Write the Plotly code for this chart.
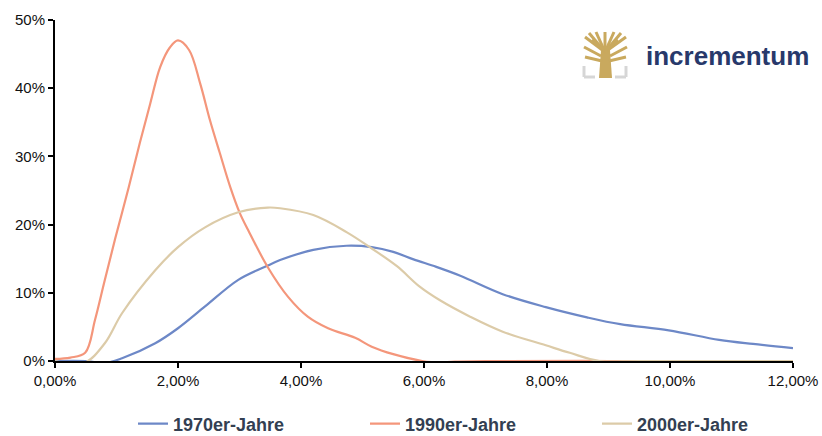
import plotly.graph_objects as go

# Zinssatz (%) on x-axis, share of observations (%) on y-axis
x_1970 = [0, 0.5, 0.81, 1.09, 1.63, 2.0, 2.44, 2.98, 3.46, 3.66, 4.2, 4.74, 5.15, 5.5, 5.83, 6.2, 6.59, 7.28, 7.98, 8.65, 9.19, 9.98, 10.8, 11.35, 12.0]
y_1970 = [0, 0, -0.3, 0.4, 2.6, 4.8, 8.0, 11.9, 14.0, 14.8, 16.3, 16.9, 16.7, 16.0, 14.9, 13.8, 12.5, 9.8, 7.9, 6.4, 5.4, 4.5, 3.1, 2.5, 1.9]

x_1990 = [0, 0.25, 0.49, 0.65, 0.8, 0.98, 1.2, 1.38, 1.55, 1.71, 1.87, 2.0, 2.18, 2.36, 2.52, 2.68, 2.85, 3.0, 3.14, 3.47, 3.79, 4.11, 4.44, 4.88, 5.15, 5.5, 5.97, 6.2, 6.5, 7.0, 9.0, 12.0]
y_1990 = [0.3, 0.5, 1.2, 6.0, 11.5, 18.0, 25.5, 32.0, 37.8, 43.1, 46.0, 47.0, 45.6, 40.7, 35.3, 30.5, 25.5, 21.8, 19.2, 13.6, 9.4, 6.5, 4.8, 3.4, 2.1, 1.0, 0, -0.2, -0.1, 0, 0, 0]

x_2000 = [0, 0.47, 0.81, 1.09, 1.63, 2.0, 2.44, 2.98, 3.46, 3.66, 4.2, 4.74, 5.15, 5.56, 5.93, 6.26, 6.75, 7.28, 7.98, 8.37, 8.85, 9.5, 12.0]
y_2000 = [0, -0.3, 2.6, 7.0, 13.3, 16.7, 19.6, 21.8, 22.5, 22.4, 21.4, 18.9, 16.5, 13.9, 10.9, 8.9, 6.5, 4.3, 2.3, 1.2, 0, 0, 0]

series_names = ["1970er-Jahre", "1990er-Jahre", "2000er-Jahre"]
colors = ["#6d88c7", "#f4967b", "#dccba8"]

x_ticks = [0, 2, 4, 6, 8, 10, 12]
x_ticktext = ["0,00%", "2,00%", "4,00%", "6,00%", "8,00%", "10,00%", "12,00%"]
y_ticks = [0, 10, 20, 30, 40, 50]
y_ticktext = ["0%", "10%", "20%", "30%", "40%", "50%"]

fig = go.Figure()
for xs, ys, name, col in zip([x_1970, x_1990, x_2000], [y_1970, y_1990, y_2000], series_names, colors):
    fig.add_trace(go.Scatter(x=xs, y=ys, name=name, mode="lines",
                             line=dict(color=col, width=2.2, shape="spline", smoothing=1.0)))

W, H = 822, 436
L, R, T, B = 55, 29, 20, 75
pw, ph = W - L - R, H - T - B

def px(xp):
    return (xp - L) / pw

def py(yp):
    return (H - B - yp) / ph

shapes = []
gold = "#c9a95e"
grey = "#d6d6d6"
shapes.append(dict(type="path", xref="paper", yref="paper",
                   path="M {},{} L {},{} L {},{} L {},{} Z".format(px(599), py(78), px(612), py(78), px(610), py(50), px(601), py(50)),
                   fillcolor=gold, line=dict(width=0)))
branches = [((605, 52), (585, 37)), ((605, 52), (589, 33)), ((605, 52), (596, 32)), ((605, 52), (605, 32)),
            ((605, 52), (614, 32)), ((605, 52), (621, 33)), ((605, 52), (626, 37)),
            ((601, 56), (584, 47)), ((610, 56), (627, 47)), ((602, 61), (585, 57)), ((609, 61), (626, 57)),
            ((604, 50), (592, 40)), ((606, 50), (618, 40))]
for (a, b) in branches:
    shapes.append(dict(type="line", xref="paper", yref="paper", x0=px(a[0]), y0=py(a[1]), x1=px(b[0]), y1=py(b[1]),
                       line=dict(color=gold, width=3)))
for xs_ in [(584, 584, 595), (626, 626, 615)]:
    shapes.append(dict(type="line", xref="paper", yref="paper", x0=px(xs_[0]), y0=py(66), x1=px(xs_[1]), y1=py(77),
                       line=dict(color=grey, width=3)))
    shapes.append(dict(type="line", xref="paper", yref="paper", x0=px(xs_[1]), y0=py(77), x1=px(xs_[2]), y1=py(77),
                       line=dict(color=grey, width=3)))

tickfont = dict(family="Liberation Sans, Arial, sans-serif", size=15, color="#111111")

fig.update_layout(
    width=W, height=H,
    margin=dict(l=L, r=R, t=T, b=B, autoexpand=False),
    paper_bgcolor="white", plot_bgcolor="white",
    font=dict(family="Liberation Sans, Arial, sans-serif", size=15, color="#111111"),
    showlegend=True,
    legend=dict(orientation="h", x=px(133), xanchor="left", y=py(424), yanchor="middle",
                borderwidth=0, bgcolor="rgba(0,0,0,0)",
                font=dict(size=18, color="#333f52", family="Liberation Sans, Arial, sans-serif", weight="bold"),
                entrywidth=187, entrywidthmode="pixels"),
    shapes=shapes,
    annotations=[dict(text="<b>incrementum</b>", xref="paper", yref="paper", x=px(644), y=py(56), xanchor="left",
                      yanchor="middle", showarrow=False,
                      font=dict(size=26, color="#28396b", family="Liberation Sans, Arial, sans-serif"))],
)
fig.update_xaxes(range=[0, 12], tickvals=x_ticks, ticktext=x_ticktext, tickfont=tickfont, automargin=False,
                 showgrid=False, zeroline=False, showline=True, linecolor="black", linewidth=2,
                 ticks="outside", ticklen=5, tickcolor="black", tickwidth=1.5)
fig.update_yaxes(range=[0, 50], tickvals=y_ticks, ticktext=y_ticktext, tickfont=tickfont, automargin=False,
                 showgrid=False, zeroline=False, showline=True, linecolor="black", linewidth=2,
                 ticks="outside", ticklen=5, tickcolor="black", tickwidth=1.5)

fig.write_html("out.html", config={"displayModeBar": False},
               post_script="document.body.style.margin='0px';")
